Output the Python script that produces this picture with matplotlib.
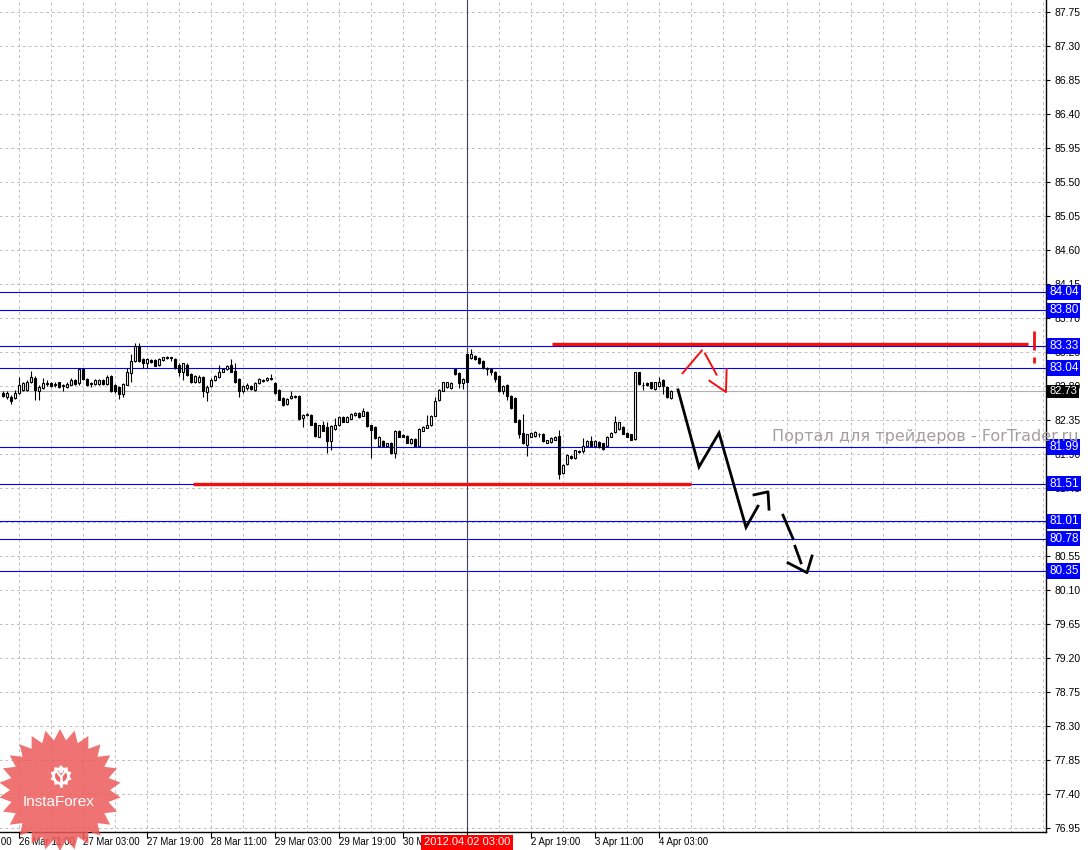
import numpy as np
import matplotlib.pyplot as plt
from matplotlib.patches import Polygon, Circle

plt.rcParams['font.family'] = ['Liberation Sans', 'DejaVu Sans']

# ── Svece (H1), bar 0 = 26 Mar 11:00 ─────────────────────────
prvi_bar = -4
otvaranje = [82.71, 82.65, 82.66, 82.64, 82.71, 82.75, 82.75, 82.85, 82.91, 82.73,
             82.77, 82.83, 82.84, 82.81, 82.85, 82.80, 82.79, 82.82, 82.88, 82.84,
             83.02, 82.89, 82.83, 82.83, 82.83, 82.88, 82.83, 82.93, 82.81, 82.79,
             82.69, 82.82, 82.97, 83.13, 83.33, 83.16, 83.11, 83.14, 83.14, 83.08,
             83.14, 83.17, 83.17, 83.16, 83.08, 82.99, 83.08, 82.96, 82.85, 82.86,
             82.92, 82.72, 82.80, 82.88, 82.92, 82.99, 83.02, 83.08, 83.00, 82.89,
             82.73, 82.77, 82.80, 82.75, 82.84, 82.88, 82.88, 82.89, 82.84, 82.75,
             82.64, 82.56, 82.64, 82.65, 82.67, 82.38, 82.42, 82.42, 82.31, 82.13,
             82.29, 82.26, 82.07, 82.23, 82.28, 82.39, 82.33, 82.37, 82.42, 82.44,
             82.41, 82.45, 82.28, 82.26, 82.00, 82.07, 82.01, 82.05, 81.91, 82.21,
             82.15, 82.14, 82.04, 82.10, 82.01, 82.21, 82.25, 82.28, 82.41, 82.61,
             82.74, 82.79, 82.77, 83.02, 82.97, 82.84, 83.22, 83.17, 83.20, 83.17,
             83.13, 83.03, 83.03, 82.99, 82.93, 82.74, 82.82, 82.67, 82.64, 82.35,
             82.18, 82.02, 82.13, 82.14, 82.17, 82.17, 82.05, 82.06, 82.09, 82.14,
             81.65, 81.77, 81.88, 81.85, 81.94, 81.94, 82.01, 82.07, 82.01, 82.06,
             82.04, 82.01, 82.13, 82.19, 82.23, 82.26, 82.18, 82.16, 82.10, 82.98,
             82.82, 82.84, 82.85, 82.76, 82.80, 82.88, 82.79, 82.64]
maksimum = [82.73, 82.74, 82.68, 82.75, 82.92, 82.86, 82.88, 83.00, 82.93, 82.81,
            82.91, 82.88, 82.86, 82.85, 82.86, 82.83, 82.85, 82.90, 82.89, 83.04,
            83.04, 82.91, 82.86, 82.89, 82.89, 82.89, 82.94, 82.94, 82.83, 82.80,
            82.84, 83.04, 83.22, 83.37, 83.37, 83.17, 83.17, 83.16, 83.16, 83.17,
            83.19, 83.20, 83.19, 83.17, 83.10, 83.11, 83.10, 82.97, 82.95, 82.95,
            82.93, 82.81, 82.90, 82.95, 83.08, 83.04, 83.08, 83.16, 83.11, 82.90,
            82.82, 82.84, 82.82, 82.85, 82.91, 82.89, 82.92, 82.96, 82.85, 82.76,
            82.66, 82.64, 82.73, 82.68, 82.68, 82.43, 82.44, 82.43, 82.32, 82.29,
            82.34, 82.33, 82.28, 82.38, 82.40, 82.40, 82.40, 82.44, 82.46, 82.46,
            82.51, 82.47, 82.29, 82.27, 82.14, 82.08, 82.05, 82.06, 82.22, 82.22,
            82.16, 82.15, 82.11, 82.11, 82.24, 82.27, 82.42, 82.42, 82.65, 82.76,
            82.86, 82.86, 82.86, 83.03, 82.98, 82.90, 83.23, 83.29, 83.21, 83.18,
            83.14, 83.05, 83.04, 83.00, 82.94, 82.82, 82.83, 82.68, 82.65, 82.36,
            82.43, 82.17, 82.19, 82.20, 82.18, 82.18, 82.09, 82.12, 82.14, 82.22,
            81.77, 81.90, 81.89, 81.96, 81.95, 82.11, 82.09, 82.14, 82.08, 82.07,
            82.05, 82.14, 82.19, 82.41, 82.33, 82.27, 82.19, 82.17, 82.99, 82.99,
            82.86, 82.86, 82.86, 82.86, 82.92, 82.89, 82.80, 82.75]
minimum = [82.66, 82.63, 82.56, 82.63, 82.70, 82.73, 82.73, 82.84, 82.62, 82.62,
           82.76, 82.80, 82.79, 82.79, 82.78, 82.73, 82.78, 82.81, 82.82, 82.82,
           82.88, 82.80, 82.79, 82.82, 82.82, 82.82, 82.82, 82.72, 82.71, 82.63,
           82.66, 82.81, 82.85, 83.12, 83.12, 83.04, 83.04, 83.10, 83.06, 83.07,
           83.13, 83.16, 83.13, 83.03, 82.93, 82.88, 82.93, 82.84, 82.84, 82.84,
           82.66, 82.60, 82.79, 82.87, 82.91, 82.98, 83.01, 82.98, 82.84, 82.66,
           82.71, 82.75, 82.75, 82.74, 82.83, 82.86, 82.87, 82.88, 82.70, 82.61,
           82.54, 82.55, 82.63, 82.64, 82.35, 82.26, 82.40, 82.28, 82.13, 82.12,
           82.20, 81.91, 81.95, 82.22, 82.27, 82.32, 82.32, 82.36, 82.41, 82.38,
           82.40, 82.26, 81.85, 82.10, 81.99, 82.00, 82.00, 81.90, 81.85, 82.12,
           82.12, 82.04, 82.03, 82.00, 82.00, 82.20, 82.24, 82.27, 82.40, 82.60,
           82.73, 82.78, 82.76, 82.95, 82.77, 82.76, 82.85, 83.16, 83.15, 83.09,
           83.03, 82.95, 82.94, 82.86, 82.72, 82.69, 82.62, 82.50, 82.32, 82.11,
           82.03, 81.88, 82.12, 82.13, 82.13, 82.06, 82.04, 82.05, 82.08, 81.57,
           81.64, 81.76, 81.84, 81.84, 81.92, 81.91, 82.00, 82.00, 82.00, 81.98,
           81.96, 82.00, 82.12, 82.18, 82.22, 82.16, 82.12, 82.08, 82.09, 82.82,
           82.75, 82.80, 82.76, 82.75, 82.79, 82.69, 82.64, 82.63]
zatvaranje = [82.67, 82.71, 82.60, 82.71, 82.82, 82.84, 82.86, 82.92, 82.75, 82.79,
              82.84, 82.84, 82.80, 82.83, 82.79, 82.81, 82.83, 82.88, 82.83, 83.02,
              82.89, 82.82, 82.84, 82.88, 82.88, 82.83, 82.92, 82.73, 82.73, 82.69,
              82.83, 82.99, 83.13, 83.33, 83.13, 83.10, 83.16, 83.12, 83.07, 83.16,
              83.18, 83.19, 83.18, 83.04, 82.99, 83.10, 82.94, 82.85, 82.93, 82.92,
              82.73, 82.79, 82.88, 82.93, 82.99, 83.03, 83.07, 82.99, 82.85, 82.73,
              82.80, 82.82, 82.76, 82.84, 82.89, 82.87, 82.91, 82.91, 82.71, 82.62,
              82.55, 82.63, 82.67, 82.67, 82.36, 82.42, 82.43, 82.29, 82.14, 82.28,
              82.21, 82.07, 82.27, 82.28, 82.39, 82.33, 82.39, 82.43, 82.44, 82.39,
              82.47, 82.27, 82.22, 82.11, 82.13, 82.01, 82.04, 81.91, 82.20, 82.13,
              82.13, 82.05, 82.10, 82.01, 82.23, 82.26, 82.29, 82.41, 82.60, 82.75,
              82.85, 82.85, 82.84, 82.96, 82.84, 82.89, 82.86, 83.23, 83.16, 83.10,
              83.04, 83.03, 82.99, 82.89, 82.73, 82.80, 82.67, 82.51, 82.33, 82.16,
              82.04, 82.16, 82.18, 82.19, 82.16, 82.07, 82.08, 82.11, 82.13, 81.63,
              81.76, 81.89, 81.85, 81.95, 81.93, 82.01, 82.07, 82.01, 82.07, 81.99,
              81.97, 82.13, 82.18, 82.33, 82.32, 82.17, 82.13, 82.09, 82.98, 82.83,
              82.81, 82.82, 82.77, 82.85, 82.85, 82.80, 82.65, 82.73]

# ── Nivoi i ose ──────────────────────────────────────────────
plavi_nivoi = [84.04, 83.80, 83.33, 83.04, 81.99, 81.51, 81.01, 80.78, 80.35]
bid_cena = 82.73
cene_tikovi = [87.75, 87.30, 86.85, 86.40, 85.95, 85.50, 85.05, 84.60, 84.15,
               83.70, 83.25, 82.80, 82.35, 81.90, 81.45, 81.00, 80.55, 80.10,
               79.65, 79.20, 78.75, 78.30, 77.85, 77.40, 76.95]
vreme_tikovi = [0, 16, 32, 48, 64, 80, 96, 112, 128, 144, 160]
oznake_x = [-16, 0, 16, 32, 48, 64, 80, 96, 128, 144, 160]
vreme_oznake = ['25 Mar 19:00', '26 Mar 11:00', '27 Mar 03:00', '27 Mar 19:00',
                '28 Mar 11:00', '29 Mar 03:00', '29 Mar 19:00', '30 Mar 11:00',
                '2 Apr 19:00', '3 Apr 11:00', '4 Apr 03:00']
krstic_bar = 112
krstic_oznaka = '2012.04.02 03:00'

# ── Rucno nacrtani objekti (bar, cena) ───────────────────────
crna_x = [164.75, 170, 175, 181.75, 184.75]
crna_y = [82.75, 81.73, 82.18, 80.93, 81.21]
crne_crtice = [([183.75, 187.25, 187.5], [81.36, 81.40, 81.17]),
               ([191, 193.5], [81.09, 80.78]),
               ([194, 195.5], [80.68, 80.46]),
               ([192.25, 197, 198.25], [80.46, 80.33, 80.55])]
crvena_strelica = [([165.9, 170.7], [82.97, 83.27]),
                   ([171.5, 174.4], [83.23, 82.95]),
                   ([172.6, 176.75, 176.9], [82.87, 82.72, 83.02])]
crvena_gornja = (133.25, 252.25, 83.35)
crvena_donja = (43.5, 168, 81.51)
uzvicnik_x = 253.75
uzvicnik_delovi = [(83.53, 83.28), (83.18, 83.10)]

# ── Crtanje ──────────────────────────────────────────────────
W, H = 1088, 850
fig = plt.figure(figsize=(W / 100, H / 100), dpi=100)
fig.patch.set_facecolor('white')
ax = fig.add_axes([0, 18 / H, 1046 / W, 832 / H])
ax.set_xlim(-4.75, 256.75)
ax.set_ylim(76.898, 87.909)

# grid
ax.hlines(cene_tikovi, -5, 257, colors='#C4BCBC', linewidth=0.7,
          linestyles=(0, (3, 3)), zorder=1)
ax.vlines(np.arange(0, 257, 8), 76, 88, colors='#BEC2BE', linewidth=0.7,
          linestyles=(0, (3, 3)), zorder=1)

# nivoi
ax.axhline(bid_cena, color='#B0B0B0', linewidth=0.8, zorder=1.5)
for nivo in plavi_nivoi:
    ax.axhline(nivo, color='#0000FF', linewidth=0.8, zorder=2)

# krstic
ax.axvline(krstic_bar, color='#404060', linewidth=0.8, zorder=2)

# svece
x = np.arange(prvi_bar, prvi_bar + len(zatvaranje))
o = np.array(otvaranje)
c = np.array(zatvaranje)
ax.vlines(x, minimum, maksimum, colors='black', linewidth=0.8, zorder=3)
rast = c >= o
ax.bar(x, np.maximum(np.abs(c - o), 0.004), bottom=np.minimum(o, c), width=0.6,
       color=np.where(rast, 'white', 'black'), edgecolor='black', linewidth=0.8,
       zorder=4)

# crveni nivoi
ax.hlines(crvena_gornja[2], crvena_gornja[0], crvena_gornja[1], colors='#F01010',
          linewidth=2.4, zorder=5)
ax.hlines(crvena_donja[2], crvena_donja[0], crvena_donja[1], colors='#F01010',
          linewidth=2.4, zorder=5)
for y0, y1 in uzvicnik_delovi:
    ax.vlines(uzvicnik_x, y1, y0, colors='#F01010', linewidth=2.0, zorder=5)

# prognoza
ax.plot(crna_x, crna_y, color='black', linewidth=2.0, zorder=6,
        solid_joinstyle='miter')
for xs, ys in crne_crtice:
    ax.plot(xs, ys, color='black', linewidth=2.0, zorder=6)
for xs, ys in crvena_strelica:
    ax.plot(xs, ys, color='#F01010', linewidth=1.4, zorder=6)

# ose
for s in ['left', 'top']:
    ax.spines[s].set_visible(False)
for s in ['right', 'bottom']:
    ax.spines[s].set_color('black')
    ax.spines[s].set_linewidth(1.0)
ax.yaxis.tick_right()
ax.set_yticks(cene_tikovi)
ax.set_yticklabels([f'{v:.2f}' for v in cene_tikovi])
ax.tick_params(axis='y', length=3, pad=3, labelsize=7.5, colors='black')
ax.set_xticks(vreme_tikovi)
ax.set_xticklabels([])
ax.tick_params(axis='x', length=4, direction='out', colors='black')

xtr = ax.get_xaxis_transform()
for t, lab in zip(oznake_x, vreme_oznake):
    ax.text(t, -0.0125, lab, transform=xtr, ha='left', va='center',
            fontsize=6.9, color='black', clip_on=False)
ax.text(krstic_bar, -0.0125, krstic_oznaka, transform=xtr, ha='center',
        va='center', fontsize=8, color='white', clip_on=False, zorder=10,
        bbox=dict(boxstyle='square,pad=0.25', fc='#FF0000', ec='none'))

ytr = ax.get_yaxis_transform()
for nivo in plavi_nivoi:
    ax.text(1.003, nivo, f'{nivo:.2f}', transform=ytr, ha='left', va='center',
            fontsize=8.5, color='white', clip_on=False, zorder=10,
            bbox=dict(boxstyle='square,pad=0.15', fc='#0000FF', ec='none'))
ax.text(1.003, bid_cena, f'{bid_cena:.2f}', transform=ytr, ha='left', va='center',
        fontsize=8, color='white', clip_on=False, zorder=10,
        bbox=dict(boxstyle='square,pad=0.15', fc='black', ec='none'))

# ── Vodeni zig i logo ────────────────────────────────────────
ov = fig.add_axes([0, 0, 1, 1])
ov.set_xlim(0, W)
ov.set_ylim(H, 0)
ov.axis('off')
ov.text(772, 436, 'Портал для трейдеров - ForTrader.ru', fontsize=11.5,
        color='#A49E9E', ha='left', va='center', family='DejaVu Sans')

n = 26
ug = np.linspace(0, 2 * np.pi, 2 * n, endpoint=False)
r = np.where(np.arange(2 * n) % 2 == 0, 61, 50)
ov.add_patch(Polygon(np.c_[60 + r * np.sin(ug), 790 - r * np.cos(ug)],
                     closed=True, fc='#EE5A5A', ec='none', alpha=0.85))
ug2 = np.linspace(0, 2 * np.pi, 20, endpoint=False)
r2 = np.where(np.arange(20) % 2 == 0, 11, 8.5)
ov.add_patch(Polygon(np.c_[61 + r2 * np.sin(ug2), 776 - r2 * np.cos(ug2)],
                     closed=True, fc='white', ec='none'))
ov.add_patch(Circle((61, 776), 6, fc='#EE6666', ec='none'))
ov.add_patch(Circle((61, 771), 2.2, fc='white', ec='none'))
ov.plot([57, 61, 65], [772, 777, 772], color='white', linewidth=1.5)
ov.plot([61, 61], [777, 786], color='white', linewidth=1.8)
ov.text(59, 802, 'InstaForex', fontsize=11, color='white', ha='center',
        va='center')

fig.savefig('out.png', dpi=100, facecolor='white')
